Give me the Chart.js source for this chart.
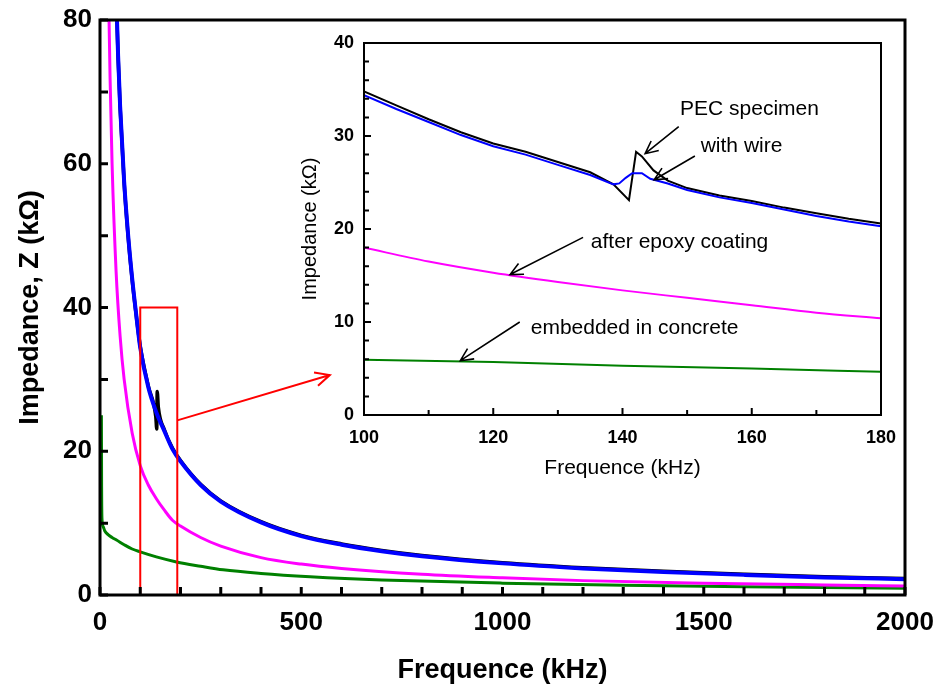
<!DOCTYPE html>
<html>
<head>
<meta charset="utf-8">
<script src="https://cdn.jsdelivr.net/npm/chart.js@4.4.1/dist/chart.umd.min.js"></script>
<style>
html, body { margin: 0; padding: 0; background: #fff; }
#wrap { position: relative; width: 936px; height: 690px; }
#main { position: absolute; left: 0; top: 0; }
#inset { position: absolute; left: 290px; top: 25px; }
</style>
</head>
<body>
<div id="wrap">
  <canvas id="main" width="936" height="690"></canvas>
  <canvas id="inset" width="610" height="460"></canvas>
</div>
<script>
// ---- main plot data (kHz, kOhm) ----
const wireFreq = [35, 40, 45, 50, 60, 70, 80, 90, 100, 120, 140, 160, 180, 200, 250, 300, 400, 500, 600, 700, 800, 1000, 1200, 1400, 1600, 1800, 2000];
const wireZ    = [95, 84, 75, 68, 57.5, 50, 44, 39, 34.4, 28.9, 25.4, 22.8, 20.3, 18.6, 15.3, 13.0, 10.1, 8.2, 7.0, 6.1, 5.4, 4.4, 3.7, 3.2, 2.8, 2.45, 2.2];

const pecFreq = [35, 40, 45, 50, 60, 70, 80, 90, 100, 120, 138.6, 141, 142.1, 145, 160, 180, 200, 250, 300, 400, 500, 600, 700, 800, 1000, 1200, 1400, 1600, 1800, 2000];
const pecZ    = [94.8, 83.8, 74.8, 67.8, 57.3, 49.8, 43.8, 38.9, 34.6, 29.1, 24.8, 23.1, 28.3, 26.1, 23.0, 20.45, 18.72, 15.4, 13.1, 10.2, 8.3, 7.1, 6.2, 5.5, 4.5, 3.8, 3.3, 2.9, 2.55, 2.3];

const epoxyFreq = [18, 20, 25, 30, 40, 50, 60, 80, 100, 120, 140, 160, 180, 200, 250, 300, 400, 500, 600, 800, 1000, 1200, 1500, 1800, 2000];
const epoxyZ    = [95, 88, 72, 60, 45, 36, 30, 22.5, 18, 15.3, 13.4, 11.8, 10.4, 9.6, 8.0, 6.8, 5.2, 4.3, 3.7, 2.9, 2.4, 2.0, 1.65, 1.4, 1.25];

const concFreq = [3.5, 4, 5, 8, 12, 20, 30, 41, 60, 80, 100, 140, 190, 250, 306, 400, 522, 700, 1000, 1300, 1600, 2000];
const concZ    = [25, 15, 10.5, 9.5, 8.9, 8.4, 8.0, 7.65, 7.0, 6.4, 6.0, 5.3, 4.6, 4.0, 3.5, 3.0, 2.55, 2.1, 1.65, 1.35, 1.15, 0.95];

// ---- inset data (100-180 kHz) ----
const insPecFreq = [100, 105, 110, 115, 120, 125, 130, 135, 138.6, 141, 142.1, 143, 144.8, 147, 150, 155, 160, 165, 170, 175, 180];
const insPecZ    = [34.8, 33.3, 31.8, 30.4, 29.2, 28.3, 27.2, 26.1, 24.8, 23.1, 28.3, 27.8, 26.3, 25.2, 24.4, 23.6, 23.0, 22.3, 21.7, 21.1, 20.6];

const insWireFreq = [100, 105, 110, 115, 120, 125, 130, 135, 138.6, 139.5, 140.5, 141.5, 143, 144.3, 147, 150, 155, 160, 165, 170, 175, 180];
const insWireZ    = [34.4, 32.9, 31.5, 30.1, 28.9, 28.0, 26.9, 25.8, 24.8, 24.9, 25.5, 26.0, 26.0, 25.4, 24.9, 24.2, 23.4, 22.8, 22.1, 21.4, 20.8, 20.3];

const insEpoxyFreq = [100, 110, 120, 130, 140, 150, 160, 170, 180];
const insEpoxyZ    = [18.0, 16.5, 15.3, 14.3, 13.4, 12.6, 11.8, 11.0, 10.4];

const insConcFreq = [100, 120, 140, 160, 180];
const insConcZ    = [5.95, 5.7, 5.3, 5.0, 4.65];

// ---- labels ----
const mainXTitle = 'Frequence (kHz)';
const mainYTitle = 'Impedance, Z (kΩ)';
const insetXTitle = 'Frequence (kHz)';
const insetYTitle = 'Impedance (kΩ)';

// annotations, in data units of each plot
const zoomBox = { x0: 100, x1: 192, y0: 0, y1: 40 };
const zoomArrow = { from: [192, 24.3], to: [571, 30.6] };
const notes = [
  { text: 'PEC specimen', at: [148.9, 32.9], from: [148.7, 31.0], to: [143.5, 28.1] },
  { text: 'with wire', at: [152.1, 28.9], from: [151.2, 27.85], to: [144.9, 25.3] },
  { text: 'after epoxy coating', at: [135.1, 18.6], from: [133.9, 19.1], to: [122.6, 15.1] },
  { text: 'embedded in concrete', at: [125.8, 9.3], from: [124.1, 10.0], to: [114.9, 5.84] }
];

const FONT = '"Liberation Sans", Arial, sans-serif';
const colors = { pec: '#000000', wire: '#0000ff', epoxy: '#ff00ff', conc: '#008000' };

function pts(xs, ys) {
  return xs.map((x, i) => ({ x: x, y: ys[i] }));
}

// order: lower numbers are drawn on top
function ds(label, xs, ys, color, w, smooth, order) {
  const d = {
    label: label,
    data: pts(xs, ys),
    borderColor: color,
    borderWidth: w,
    pointRadius: 0,
    fill: false,
    tension: 0,
    order: order
  };
  if (smooth) d.cubicInterpolationMode = 'monotone';
  return d;
}

function arrow(ctx, x0, y0, x1, y1, head) {
  const ang = Math.atan2(y1 - y0, x1 - x0);
  ctx.beginPath();
  ctx.moveTo(x0, y0);
  ctx.lineTo(x1, y1);
  ctx.moveTo(x1 - head * Math.cos(ang - 0.45), y1 - head * Math.sin(ang - 0.45));
  ctx.lineTo(x1, y1);
  ctx.lineTo(x1 - head * Math.cos(ang + 0.45), y1 - head * Math.sin(ang + 0.45));
  ctx.stroke();
}

// drop the label overhang padding so the plot box sits where layout.padding says
function fixX(h) {
  return s => { s.height = h; s.paddingLeft = 0; s.paddingRight = 0; };
}
function fixY(w) {
  return s => { s.width = w; s.paddingTop = 0; s.paddingBottom = 0; };
}

// ticks pointing into the plot, plus a full frame
function frameAndTicks(opts) {
  return {
    id: 'frameTicks',
    afterDatasetsDraw(chart) {
      const ctx = chart.ctx, a = chart.chartArea;
      const xs = chart.scales.x, ys = chart.scales.y;
      ctx.save();
      ctx.strokeStyle = '#000';
      ctx.lineWidth = opts.tickWidth;
      ctx.beginPath();
      xs.ticks.forEach(t => {
        const px = xs.getPixelForValue(t.value);
        const l = t.value % opts.xMajor === 0 ? opts.majorLen : opts.minorLen;
        ctx.moveTo(px, a.bottom);
        ctx.lineTo(px, a.bottom - l);
      });
      ys.ticks.forEach(t => {
        const py = ys.getPixelForValue(t.value);
        const l = t.value % opts.yMajor === 0 ? opts.majorLen : opts.minorLen;
        ctx.moveTo(a.left, py);
        ctx.lineTo(a.left + l, py);
      });
      ctx.stroke();
      ctx.lineWidth = opts.frameWidth;
      ctx.strokeRect(a.left, a.top, a.right - a.left, a.bottom - a.top);
      ctx.restore();
    }
  };
}

const zoomPlugin = {
  id: 'zoomMark',
  afterDatasetsDraw(chart) {
    const ctx = chart.ctx, xs = chart.scales.x, ys = chart.scales.y;
    ctx.save();
    ctx.strokeStyle = '#ff0000';
    ctx.lineWidth = 2;
    const l = xs.getPixelForValue(zoomBox.x0), r = xs.getPixelForValue(zoomBox.x1);
    const t = ys.getPixelForValue(zoomBox.y1), b = ys.getPixelForValue(zoomBox.y0);
    ctx.strokeRect(l, t, r - l, b - t);
    arrow(ctx, xs.getPixelForValue(zoomArrow.from[0]), ys.getPixelForValue(zoomArrow.from[1]),
      xs.getPixelForValue(zoomArrow.to[0]), ys.getPixelForValue(zoomArrow.to[1]), 16);
    ctx.restore();
  }
};

const notePlugin = {
  id: 'notes',
  afterDatasetsDraw(chart) {
    const ctx = chart.ctx, xs = chart.scales.x, ys = chart.scales.y;
    ctx.save();
    ctx.strokeStyle = '#000';
    ctx.fillStyle = '#000';
    ctx.lineWidth = 1.6;
    ctx.font = '21px ' + FONT;
    ctx.textBaseline = 'middle';
    ctx.textAlign = 'left';
    notes.forEach(n => {
      ctx.fillText(n.text, xs.getPixelForValue(n.at[0]), ys.getPixelForValue(n.at[1]));
      arrow(ctx, xs.getPixelForValue(n.from[0]), ys.getPixelForValue(n.from[1]),
        xs.getPixelForValue(n.to[0]), ys.getPixelForValue(n.to[1]), 14);
    });
    ctx.restore();
  }
};

// main chart
new Chart(document.getElementById('main'), {
  type: 'line',
  data: {
    datasets: [
      ds('embedded in concrete', concFreq, concZ, colors.conc, 3, true, 4),
      ds('after epoxy coating', epoxyFreq, epoxyZ, colors.epoxy, 3, true, 3),
      ds('PEC specimen', pecFreq, pecZ, colors.pec, 3.5, true, 2),
      ds('with wire', wireFreq, wireZ, colors.wire, 4, true, 1)
    ]
  },
  options: {
    responsive: false,
    animation: false,
    devicePixelRatio: 1,
    layout: { autoPadding: false, padding: { top: 20, right: 31, left: 0, bottom: 0 } },
    plugins: { legend: { display: false }, tooltip: { enabled: false } },
    scales: {
      x: {
        type: 'linear', min: 0, max: 2000,
        grid: { display: false, drawTicks: false },
        border: { display: false },
        ticks: {
          stepSize: 100, autoSkip: false, maxRotation: 0, padding: 12,
          color: '#000', font: { family: FONT, size: 26, weight: 'bold' },
          callback: v => (v % 500 === 0 ? v : '')
        },
        title: { display: true, text: mainXTitle, color: '#000', padding: { top: 0, bottom: 3 },
          font: { family: FONT, size: 27, weight: 'bold' } },
        afterFit: fixX(95)
      },
      y: {
        min: 0, max: 80,
        grid: { display: false, drawTicks: false },
        border: { display: false },
        ticks: {
          stepSize: 10, autoSkip: false, padding: 8,
          color: '#000', font: { family: FONT, size: 26, weight: 'bold' },
          callback: v => (v % 20 === 0 ? v : '')
        },
        title: { display: true, text: mainYTitle, color: '#000', padding: { top: 14, bottom: 0 },
          font: { family: FONT, size: 27, weight: 'bold' } },
        afterFit: fixY(100)
      }
    }
  },
  plugins: [zoomPlugin, frameAndTicks({ xMajor: 100, yMajor: 10, majorLen: 8, minorLen: 8, tickWidth: 3, frameWidth: 3 })]
});

// inset chart
new Chart(document.getElementById('inset'), {
  type: 'line',
  data: {
    datasets: [
      ds('embedded in concrete', insConcFreq, insConcZ, colors.conc, 2, true, 4),
      ds('after epoxy coating', insEpoxyFreq, insEpoxyZ, colors.epoxy, 2, true, 3),
      ds('PEC specimen', insPecFreq, insPecZ, colors.pec, 2, false, 2),
      ds('with wire', insWireFreq, insWireZ, colors.wire, 2, false, 1)
    ]
  },
  options: {
    responsive: false,
    animation: false,
    devicePixelRatio: 1,
    layout: { autoPadding: false, padding: { top: 18, right: 19, left: 0, bottom: 0 } },
    plugins: { legend: { display: false }, tooltip: { enabled: false } },
    scales: {
      x: {
        type: 'linear', min: 100, max: 180,
        grid: { display: false, drawTicks: false },
        border: { display: false },
        ticks: {
          stepSize: 10, autoSkip: false, maxRotation: 0, padding: 12,
          color: '#000', font: { family: FONT, size: 18, weight: 'bold' },
          callback: v => (v % 20 === 0 ? v : '')
        },
        title: { display: true, text: insetXTitle, color: '#000', padding: { top: 0, bottom: 4 },
          font: { family: FONT, size: 21 } },
        afterFit: fixX(70)
      },
      y: {
        min: 0, max: 40,
        grid: { display: false, drawTicks: false },
        border: { display: false },
        ticks: {
          stepSize: 2, autoSkip: false, padding: 10,
          color: '#000', font: { family: FONT, size: 18, weight: 'bold' },
          callback: v => (v % 10 === 0 ? v : '')
        },
        title: { display: true, text: insetYTitle, color: '#000', padding: { top: 8, bottom: 0 },
          font: { family: FONT, size: 20 } },
        afterFit: fixY(74)
      }
    }
  },
  plugins: [notePlugin, frameAndTicks({ xMajor: 20, yMajor: 10, majorLen: 7, minorLen: 5, tickWidth: 2, frameWidth: 2 })]
});
</script>
</body>
</html>
